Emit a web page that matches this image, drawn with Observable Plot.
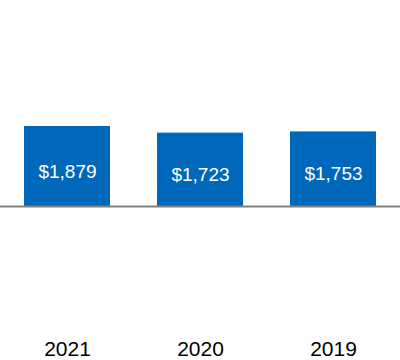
<!DOCTYPE html>
<html>
<head>
<meta charset="utf-8">
<script src="https://cdn.jsdelivr.net/npm/d3@7"></script>
<script src="https://cdn.jsdelivr.net/npm/@observablehq/plot@0.6"></script>
<style>
  html, body { margin: 0; padding: 0; background: #fff; }
  #chart { width: 400px; height: 360px; }
  svg { font-family: "Liberation Sans", Arial, sans-serif; }
</style>
</head>
<body>
<div id="chart"></div>
<script>
const years = ["2021", "2020", "2019"];
const values = [1879, 1723, 1753];
const valueLabels = ["$1,879", "$1,723", "$1,753"];

const data = years.map((y, i) => ({year: y, value: values[i], label: valueLabels[i]}));

const chart = Plot.plot({
  width: 400,
  height: 360,
  marginTop: 0,
  marginLeft: 0,
  marginRight: 0,
  marginBottom: 154,
  style: {fontFamily: "'Liberation Sans', Arial, sans-serif", background: "#fff"},
  x: {domain: years, paddingInner: 0.356, paddingOuter: 0.178, axis: null},
  y: {domain: [0, 4840], axis: null},
  marks: [
    Plot.barY(data, {x: "year", y: "value", fill: "#0068bb"}),
    Plot.ruleY([0], {stroke: "#808080", strokeWidth: 2}),
    Plot.text(data, {x: "year", y: d => d.value / 2, text: "label", fill: "#fff", fontSize: 19, dy: 5}),
    Plot.text(data, {x: "year", text: "year", frameAnchor: "bottom", dy: 149, fill: "#000", fontSize: 21})
  ]
});
document.getElementById("chart").appendChild(chart);
</script>
</body>
</html>
